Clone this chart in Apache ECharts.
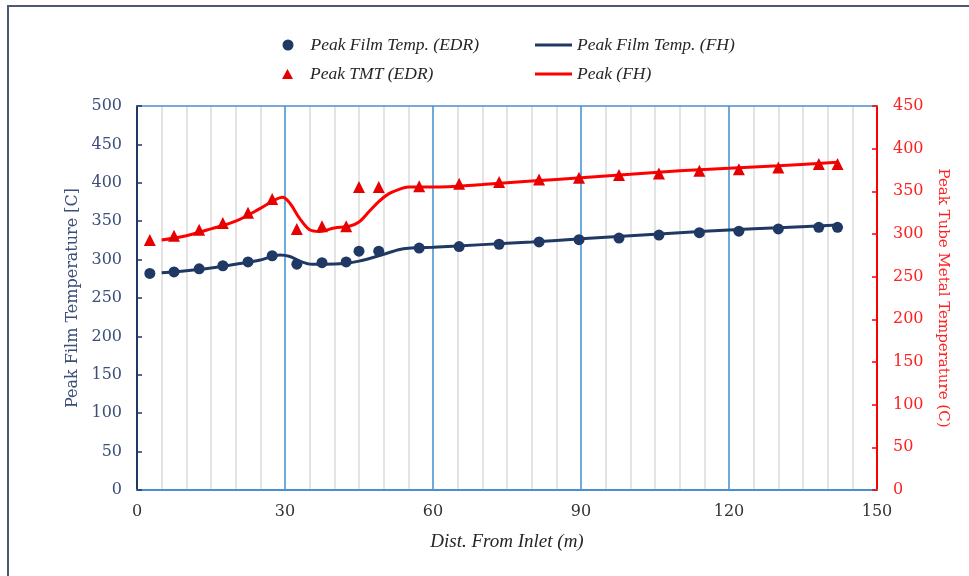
<!DOCTYPE html>
<html>
<head>
<meta charset="utf-8">
<script src="https://cdn.jsdelivr.net/npm/echarts@6/dist/echarts.min.js"></script>
<style>
html,body{margin:0;padding:0;background:#fff;}
#c{width:969px;height:576px;}
</style>
</head>
<body>
<div id="c"></div>
<script>
// ---- data ----
const edrDist = [2.6, 7.5, 12.6, 17.4, 22.5, 27.4, 32.4, 37.5, 42.4, 45, 49, 57.2, 65.3, 73.4, 81.5, 89.6, 97.7, 105.8, 114, 122, 130, 138.2, 142];
const filmEdr = [282, 284, 288, 292, 297, 305, 294, 296, 297, 311, 311, 315, 317, 320, 323, 326, 328, 332, 335, 337, 340, 342, 342];
const tmtEdr  = [293, 298, 305, 313, 325, 341, 306, 309, 309, 355, 355, 356, 359, 361, 364, 366, 369, 371, 374, 376, 378, 382, 382];

const filmFhDist = [5, 10, 15, 20, 25, 29, 31, 33, 35.5, 38, 42, 45, 48, 51, 54, 57, 60, 70, 80, 90, 100, 110, 120, 130, 142];
const filmFh     = [283, 285.5, 289, 294, 299.5, 306, 304, 298, 294, 294, 295, 298, 303, 309, 314, 315.5, 316, 319.5, 323, 327, 331, 335, 338.5, 341.5, 345];

const tmtFhDist = [5, 10, 15, 20, 25, 28, 29.5, 31, 33, 35, 37, 40, 43, 45, 47, 49, 51, 53, 55, 60, 70, 80, 90, 100, 110, 120, 130, 142];
const tmtFh     = [293, 298, 306, 315, 330, 340, 343, 336, 318, 305, 303, 307, 309, 314, 326, 338, 347, 352, 355, 355, 358, 362, 366, 370, 374, 377, 380, 384];

const names = ['Peak Film Temp. (EDR)', 'Peak Film Temp. (FH)', 'Peak TMT (EDR)', 'Peak (FH)'];
const xTicks = [0, 30, 60, 90, 120, 150];

const pair = (xs, ys) => xs.map((x, i) => [x, ys[i]]);

const NAVY = '#1f3864';
const RED = '#ff0000';
const serif = 'Liberation Serif';
const serif2 = 'DejaVu Serif';
const TRI = 'path://M5,0 L10,9 L0,9 Z';

const legendBase = {
  orient: 'horizontal',
  padding: 0,
  symbolKeepAspect: true,
  textStyle: { fontFamily: serif, fontStyle: 'italic', fontSize: 17.5, color: '#262626' },
  selectedMode: false
};
const symText = Object.assign({}, legendBase.textStyle, { padding: [0, 0, 0, 12] });

const option = {
  animation: false,
  backgroundColor: '#ffffff',
  graphic: [{
    type: 'rect',
    shape: { x: 8, y: 6, width: 2000, height: 2000 },
    style: { fill: 'none', stroke: '#4d5a6e', lineWidth: 2 },
    silent: true
  }],
  legend: [
    Object.assign({}, legendBase, { data: [{ name: names[0], icon: 'circle' }], left: 282.5, top: 36, itemWidth: 11, itemHeight: 11, textStyle: symText }),
    Object.assign({}, legendBase, { data: [{ name: names[1], icon: 'rect' }], left: 535, top: 36, itemWidth: 37, itemHeight: 3 }),
    Object.assign({}, legendBase, { data: [{ name: names[2], icon: TRI }], left: 282, top: 65, itemWidth: 11, itemHeight: 11, textStyle: symText }),
    Object.assign({}, legendBase, { data: [{ name: names[3], icon: 'rect' }], left: 535, top: 65, itemWidth: 37, itemHeight: 3 })
  ],
  grid: { left: 137, right: 92, top: 106, bottom: 86, containLabel: false },
  xAxis: [{
    type: 'value', min: xTicks[0], max: xTicks[xTicks.length - 1], interval: 30,
    name: 'Dist. From Inlet (m)', nameLocation: 'middle', nameGap: 42,
    nameTextStyle: { fontFamily: serif, fontStyle: 'italic', fontSize: 19, color: '#262626' },
    axisLine: { show: true, onZero: false, lineStyle: { color: '#4a8fd0', width: 2 } },
    axisTick: { show: false },
    axisLabel: { fontFamily: serif2, fontSize: 16, color: '#333333', margin: 14 },
    splitLine: { show: true, lineStyle: { color: '#3d8fd1', width: 1.5 } },
    minorTick: { show: false, splitNumber: 6 },
    minorSplitLine: { show: true, lineStyle: { color: '#dcdcdc', width: 1.5 } }
  }, {
    type: 'value', min: 0, max: 150, position: 'top',
    axisLine: { show: true, onZero: false, lineStyle: { color: '#4a8fd0', width: 1.5 } },
    axisTick: { show: false }, axisLabel: { show: false }, splitLine: { show: false }
  }],
  yAxis: [{
    type: 'value', min: 0, max: 500, interval: 50, position: 'left',
    name: 'Peak Film Temperature [C]', nameLocation: 'middle', nameGap: 51, nameRotate: 90,
    nameTextStyle: { fontFamily: serif2, fontSize: 16, color: '#3b4f7a' },
    axisLine: { show: true, onZero: false, lineStyle: { color: NAVY, width: 2 } },
    axisTick: { show: true, inside: true, length: 5, lineStyle: { color: NAVY, width: 1.5 } },
    axisLabel: { fontFamily: serif2, fontSize: 16, color: '#3b4f7a', margin: 15 },
    splitLine: { show: false }
  }, {
    type: 'value', min: 0, max: 450, interval: 50, position: 'right',
    name: 'Peak Tube Metal Temperature (C)', nameLocation: 'middle', nameGap: 58, nameRotate: -90,
    nameTextStyle: { fontFamily: serif2, fontSize: 15, color: '#ff2020' },
    axisLine: { show: true, onZero: false, lineStyle: { color: RED, width: 2 } },
    axisTick: { show: true, inside: true, length: 5, lineStyle: { color: RED, width: 1.5 } },
    axisLabel: { fontFamily: serif2, fontSize: 16, color: '#ff2020', margin: 16 },
    splitLine: { show: false }
  }],
  series: [
    {
      name: names[1], type: 'line', xAxisIndex: 0, yAxisIndex: 0,
      data: pair(filmFhDist, filmFh), smooth: 0.35, showSymbol: false, symbol: 'none',
      lineStyle: { color: NAVY, width: 3 }, itemStyle: { color: NAVY }, z: 3
    },
    {
      name: names[3], type: 'line', xAxisIndex: 0, yAxisIndex: 1,
      data: pair(tmtFhDist, tmtFh), smooth: 0.35, showSymbol: false, symbol: 'none',
      lineStyle: { color: RED, width: 3 }, itemStyle: { color: RED }, z: 3
    },
    {
      name: names[0], type: 'scatter', xAxisIndex: 0, yAxisIndex: 0,
      data: pair(edrDist, filmEdr), symbol: 'circle', symbolSize: 11,
      itemStyle: { color: NAVY, opacity: 1 }, z: 4
    },
    {
      name: names[2], type: 'scatter', xAxisIndex: 0, yAxisIndex: 1,
      data: pair(edrDist, tmtEdr), symbol: 'triangle', symbolSize: 12,
      itemStyle: { color: '#e60000', opacity: 1 }, z: 4
    }
  ]
};

echarts.init(document.getElementById('c'), null, { renderer: 'canvas' }).setOption(option);
</script>
</body>
</html>
